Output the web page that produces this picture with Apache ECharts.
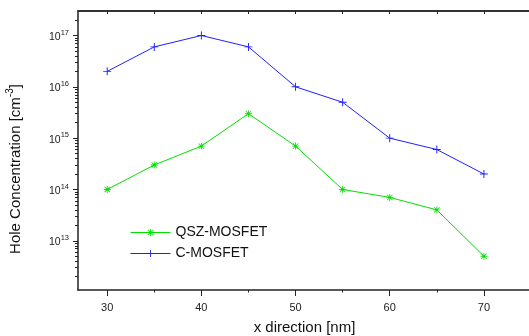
<!DOCTYPE html>
<html>
<head>
<meta charset="utf-8">
<script src="https://cdn.jsdelivr.net/npm/echarts@6/dist/echarts.min.js"></script>
<style>
html,body{margin:0;padding:0;background:#fff;overflow:hidden;}
#chart{width:560px;height:336px;}
</style>
</head>
<body>
<div id="chart"></div>
<script>
// ---- data ----
var xValues = [30, 35, 40, 45, 50, 55, 60, 65, 70];
var qszMosfet = [1e14, 3e14, 7e14, 3e15, 7e14, 1e14, 7e13, 4e13, 5e12];
var cMosfet = [2e16, 6e16, 1e17, 6e16, 1e16, 5e15, 1e15, 6e14, 2e14];
var seriesNames = ['QSZ-MOSFET', 'C-MOSFET'];
var xMajorTicks = [30, 40, 50, 60, 70];
var xMinorTicks = [35, 45, 55, 65];
var xTopTicks = [30, 35, 40, 45, 50, 55, 60, 65, 70];
var yMajorTicks = [1e13, 1e14, 1e15, 1e16, 1e17];
var yMinorMultipliers = [2, 3, 4, 5, 6, 7, 8, 9];
var yDecades = [1e12, 1e13, 1e14, 1e15, 1e16, 1e17];

var X_MIN = 26.9, X_MAX = 75;
var Y_MIN = 1.1e12, Y_MAX = 3e17;

var yMinorTicks = [];
yDecades.forEach(function (d) {
  yMinorMultipliers.forEach(function (m) {
    var v = d * m;
    if (v >= Y_MIN && v <= Y_MAX) yMinorTicks.push(v);
  });
});

function pairs(xs, ys) { return xs.map(function (x, i) { return [x, ys[i]]; }); }

var FONT = 'Liberation Sans, Arial, sans-serif';
var AXIS_COLOR = '#222';
var GRID_LEFT = 78, GRID_RIGHT = 29, CHART_W = 560;
var GRID_W = CHART_W - GRID_LEFT - GRID_RIGHT;

var asterisk = 'path://M4.4,0H5.6V10H4.4Z M0,4.4H10V5.6H0Z M0.8,1.6L1.6,0.8L9.2,8.4L8.4,9.2Z M8.4,0.8L9.2,1.6L1.6,9.2L0.8,8.4Z';
var plus = 'path://M4.4,0H5.6V4.4H10V5.6H5.6V10H4.4V5.6H0V4.4H4.4Z';

var chart = echarts.init(document.getElementById('chart'), null, {renderer: 'canvas'});

var option = {
  animation: false,
  backgroundColor: '#fff',
  grid: {left: GRID_LEFT, top: 11, right: GRID_RIGHT, bottom: 46, containLabel: false, outerBoundsMode: 'none', show: false},
  legend: {
    orient: 'vertical',
    left: 130, top: 225,
    padding: 0,
    itemWidth: 40, itemHeight: 9, itemGap: 6,
    lineStyle: {width: 1},
    textStyle: {fontFamily: FONT, fontSize: 14, color: '#111', lineHeight: 15},
    data: seriesNames
  },
  xAxis: [
    {
      type: 'value', position: 'bottom', min: X_MIN, max: X_MAX,
      name: 'x direction [nm]', nameLocation: 'middle', nameGap: 30,
      nameTextStyle: {fontFamily: FONT, fontSize: 15, color: '#111'},
      axisLine: {show: true, onZero: false, lineStyle: {color: AXIS_COLOR, width: 1.5}},
      axisTick: {show: true, inside: false, length: 6, customValues: xMajorTicks, lineStyle: {color: AXIS_COLOR, width: 1}},
      axisLabel: {show: true, margin: 12, customValues: xMajorTicks, fontFamily: FONT, fontSize: 11, color: '#222'},
      splitLine: {show: false}
    },
    {
      type: 'value', position: 'bottom', min: X_MIN, max: X_MAX,
      axisLine: {show: false, onZero: false},
      axisTick: {show: true, inside: false, length: 2.5, customValues: xMinorTicks, lineStyle: {color: AXIS_COLOR, width: 1}},
      axisLabel: {show: false},
      splitLine: {show: false}
    },
    {
      type: 'value', position: 'top', min: X_MIN, max: X_MAX,
      axisLine: {show: true, onZero: false, lineStyle: {color: '#333', width: 2}},
      axisTick: {show: true, inside: true, length: 3, customValues: xTopTicks, lineStyle: {color: AXIS_COLOR, width: 1}},
      axisLabel: {show: false},
      splitLine: {show: false}
    }
  ],
  yAxis: [
    {
      type: 'log', logBase: 10, position: 'left', min: Y_MIN, max: Y_MAX,
      axisLine: {show: true, onZero: false, lineStyle: {color: AXIS_COLOR, width: 1.5}},
      axisTick: {show: true, inside: false, length: 5, customValues: yMajorTicks, lineStyle: {color: AXIS_COLOR, width: 1}},
      axisLabel: {
        show: true, margin: 9, customValues: yMajorTicks,
        formatter: function (v) {
          var e = Math.round(Math.log(v) / Math.LN10);
          return '{b|10}{s|' + e + '}';
        },
        rich: {
          b: {fontFamily: FONT, fontSize: 10.5, color: '#222', lineHeight: 14, verticalAlign: 'bottom'},
          s: {fontFamily: FONT, fontSize: 7.5, color: '#222', lineHeight: 14, verticalAlign: 'top', padding: [0, 0, 5, 0]}
        }
      },
      splitLine: {show: false}
    },
    {
      // minor ticks: right-side axis shifted onto the left edge, ticks pointing outward (left)
      type: 'log', logBase: 10, position: 'right', offset: -GRID_W, min: Y_MIN, max: Y_MAX,
      axisLine: {show: false, onZero: false},
      axisTick: {show: true, inside: true, length: 3, customValues: yMinorTicks, lineStyle: {color: AXIS_COLOR, width: 1}},
      axisLabel: {show: false},
      splitLine: {show: false}
    }
  ],
  graphic: [
    {
      type: 'text', x: 14, y: 169, rotation: Math.PI / 2,
      style: {
        text: '{n|Hole Concentration [cm}{s|-3}{n|]}',
        align: 'center', verticalAlign: 'middle',
        rich: {
          n: {fontFamily: FONT, fontSize: 15, fill: '#111', lineHeight: 18, verticalAlign: 'bottom'},
          s: {fontFamily: FONT, fontSize: 10, fill: '#111', lineHeight: 18, verticalAlign: 'top'}
        }
      }
    }
  ],
  series: [
    {
      name: seriesNames[0], type: 'line', xAxisIndex: 0, yAxisIndex: 0,
      data: pairs(xValues, qszMosfet),
      symbol: asterisk, symbolSize: 7, showSymbol: true,
      lineStyle: {color: '#00e000', width: 1},
      itemStyle: {color: '#00e000'},
      z: 3
    },
    {
      name: seriesNames[1], type: 'line', xAxisIndex: 0, yAxisIndex: 0,
      data: pairs(xValues, cMosfet),
      symbol: plus, symbolSize: 8, showSymbol: true,
      lineStyle: {color: '#2020ff', width: 1},
      itemStyle: {color: '#2020ff'},
      z: 3
    }
  ]
};
chart.setOption(option);
</script>
</body>
</html>
